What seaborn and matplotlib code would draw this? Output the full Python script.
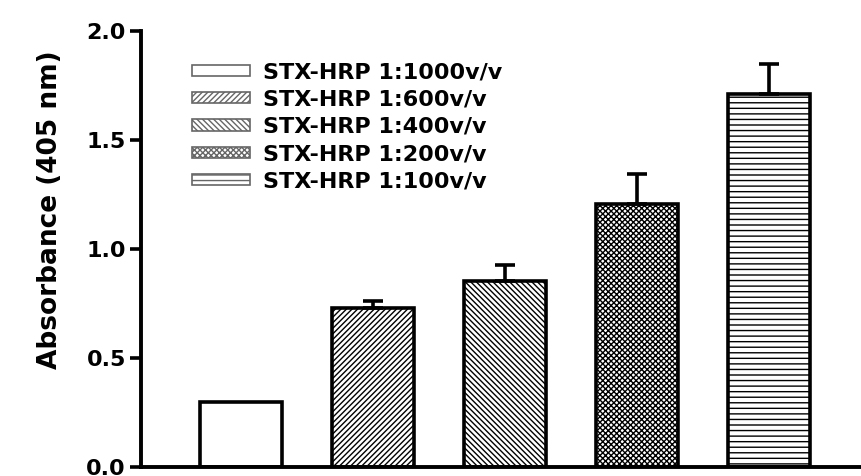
import numpy as np
import pandas as pd
import seaborn as sns
import matplotlib.pyplot as plt
from matplotlib.patches import Patch

# values
labels = ['STX-HRP 1:1000v/v', 'STX-HRP 1:600v/v', 'STX-HRP 1:400v/v',
          'STX-HRP 1:200v/v', 'STX-HRP 1:100v/v']
absorbance = [0.30, 0.73, 0.855, 1.205, 1.71]
sd = [0.0, 0.03, 0.07, 0.14, 0.14]
hatches = ['', '//////', '\\\\\\\\\\\\', 'xxxxxx', '---']

sns.set_theme(style='ticks', rc={'text.color': 'black', 'axes.labelcolor': 'black',
                                 'axes.edgecolor': 'black', 'ytick.color': 'black',
                                 'xtick.color': 'black'})
plt.rcParams['font.family'] = ['DejaVu Sans']
plt.rcParams['font.weight'] = 'bold'
plt.rcParams['hatch.linewidth'] = 1.0
plt.rcParams['hatch.color'] = '#858585'

df = pd.DataFrame({'dilution': labels, 'abs': absorbance, 'sd': sd})

fig = plt.figure(figsize=(8.61, 4.76), dpi=100)
ax = fig.add_axes([0.1638, 0.019, 0.8362, 0.916])

sns.barplot(data=df, x='dilution', y='abs', color='white', edgecolor='black',
            linewidth=2.6, width=0.62, saturation=1, ax=ax)

for bar, h in zip(ax.patches, hatches):
    bar.set_hatch(h)
    bar.set_facecolor('white')

xs = np.arange(len(labels))
ax.errorbar(xs[1:], df['abs'][1:], yerr=[np.zeros(4), df['sd'][1:]],
            fmt='none', ecolor='black', elinewidth=2.6, capsize=7, capthick=2.6,
            zorder=1)

ax.set_ylim(0, 2.0)
ax.set_xlim(-0.76, 4.70)
ax.set_yticks([0, 0.5, 1.0, 1.5, 2.0])
ax.set_yticklabels(['0.0', '0.5', '1.0', '1.5', '2.0'])
ax.set_xticks([])
ax.set_xlabel('')
ax.set_ylabel('Absorbance (405 nm)', fontsize=19, fontweight='bold')
ax.yaxis.set_label_coords(-0.108, 0.59)
ax.tick_params(axis='y', labelsize=16, width=2.6, length=8, direction='out', pad=3)
for lab in ax.get_yticklabels():
    lab.set_fontweight('bold')

sns.despine(ax=ax)
ax.spines['left'].set_linewidth(2.8)
ax.spines['bottom'].set_linewidth(2.8)

handles = [Patch(facecolor='white', edgecolor='#666666', linewidth=1.2, hatch=h)
           for h in hatches]
ax.legend(handles, labels, loc='upper left', bbox_to_anchor=(0.071, 0.928),
          frameon=False, handlelength=2.6, handleheight=0.4,
          labelspacing=0.33, handletextpad=0.6, borderaxespad=0, borderpad=0,
          prop={'weight': 'bold', 'size': 16})

fig.savefig('out.png', dpi=100)
